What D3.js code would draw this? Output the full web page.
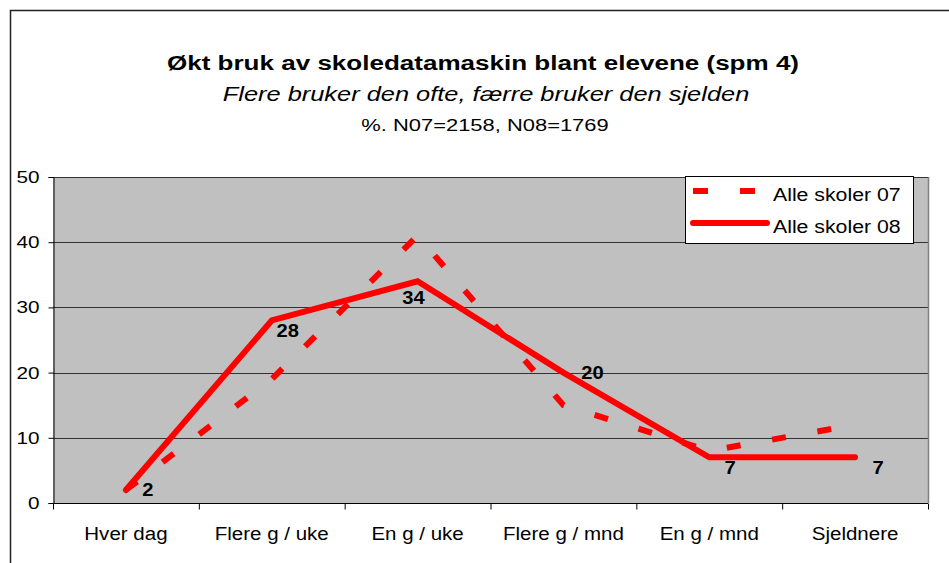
<!DOCTYPE html>
<html>
<head>
<meta charset="utf-8">
<script src="https://cdnjs.cloudflare.com/ajax/libs/d3/7.8.5/d3.min.js"></script>
<style>
  body { margin: 0; background: #fff; }
  svg text { font-family: "Liberation Sans", Arial, sans-serif; fill: #000; }
</style>
</head>
<body>
<div id="chart"></div>
<script>
// chart data
var categories = ['Hver dag', 'Flere g / uke', 'En g / uke', 'Flere g / mnd', 'En g / mnd', 'Sjeldnere'];
var skoler07 = [2, 19, 41, 15, 8, 12];
var skoler08 = [2, 28, 34, 20, 7, 7];
var yTicks = [0, 10, 20, 30, 40, 50];
var seriesNames = ['Alle skoler 07', 'Alle skoler 08'];
// where each 08 value label sits relative to its point
var labelOffsets = [[22, 0], [16, 10], [-4, 16], [29, 0], [21, 10], [23, 10]];

var width = 949,
  height = 563;

var svg = d3.select('#chart').append('svg')
    .attr('width', width)
    .attr('height', height);

// outer frame (runs off the right and bottom edges)
svg.append('rect')
    .attr('x', 10.5).attr('y', 10.5)
    .attr('width', 1000).attr('height', 1000)
    .attr('fill', 'none')
    .attr('stroke', '#222')
    .attr('stroke-width', 1.5);

var plot = {left: 53, right: 928, top: 177, bottom: 503};

var x = d3.scaleBand()
    .domain(categories)
    .range([plot.left, plot.right]);

var xEdge = d3.scaleLinear()
    .domain([0, categories.length])
    .range([plot.left, plot.right]);

var y = d3.scaleLinear()
    .domain([0, 50])
    .range([plot.bottom, plot.top]);

function cx(i) { return x(categories[i]) + x.bandwidth() / 2; }

// stretch text sideways like the original
function stretch(sel, sx) {
  sel.each(function() {
    var t = d3.select(this);
    var tx = +t.attr('x') || 0;
    t.attr('transform', 'translate(' + tx + ',0) scale(' + sx + ',1) translate(' + (-tx) + ',0)');
  });
}

// titles
svg.append('text')
    .attr('x', 483).attr('y', 70)
    .attr('text-anchor', 'middle')
    .style('font-size', '21px')
    .style('font-weight', 'bold')
    .text('Økt bruk av skoledatamaskin blant elevene (spm 4)')
    .call(stretch, 1.24);

svg.append('text')
    .attr('x', 486).attr('y', 101)
    .attr('text-anchor', 'middle')
    .style('font-size', '21px')
    .style('font-style', 'italic')
    .text('Flere bruker den ofte, færre bruker den sjelden')
    .call(stretch, 1.21);

svg.append('text')
    .attr('x', 485).attr('y', 131)
    .attr('text-anchor', 'middle')
    .style('font-size', '17px')
    .text('%. N07=2158, N08=1769')
    .call(stretch, 1.29);

// plot area
svg.append('rect')
    .attr('x', plot.left).attr('y', plot.top)
    .attr('width', plot.right - plot.left)
    .attr('height', plot.bottom - plot.top)
    .attr('fill', '#c0c0c0');

svg.append('g')
  .selectAll('line')
  .data(yTicks.slice(1))
  .enter().append('line')
    .attr('x1', plot.left).attr('x2', plot.right)
    .attr('y1', function(d) { return Math.round(y(d)) + 0.5; })
    .attr('y2', function(d) { return Math.round(y(d)) + 0.5; })
    .attr('stroke', '#333')
    .attr('stroke-width', 1);

svg.append('line')
    .attr('x1', plot.right + 0.5).attr('x2', plot.right + 0.5)
    .attr('y1', plot.top).attr('y2', plot.bottom)
    .attr('stroke', '#808080')
    .attr('stroke-width', 1.5);

// y axis
var yAxis = d3.axisLeft(y).tickValues(yTicks).tickSize(5).tickPadding(9);
var gy = svg.append('g')
    .attr('transform', 'translate(' + (plot.left + 0.5) + ',0)')
    .call(yAxis);
gy.select('.domain').attr('stroke', '#000');
gy.selectAll('.tick line').attr('stroke', '#000');
gy.selectAll('text')
    .style('font-size', '17px')
    .attr('fill', '#000')
    .call(stretch, 1.22);

// x axis: ticks at category edges, labels at centres
var gx = svg.append('g')
    .attr('transform', 'translate(0,' + (plot.bottom + 0.5) + ')')
    .call(d3.axisBottom(xEdge).tickValues(d3.range(categories.length + 1)).tickSize(6).tickFormat(''));
gx.select('.domain').attr('stroke', '#000').attr('d', 'M' + plot.left + ',0H' + plot.right);
gx.selectAll('.tick line').attr('stroke', '#000');

var gxl = svg.append('g')
    .attr('transform', 'translate(0,' + plot.bottom + ')')
    .call(d3.axisBottom(x).tickSize(0).tickPadding(24));
gxl.select('.domain').remove();
gxl.selectAll('text')
    .style('font-size', '19px')
    .attr('fill', '#000')
    .call(stretch, 1.08);

// lines
var line = d3.line()
    .x(function(d, i) { return cx(i); })
    .y(function(d) { return y(d); });

svg.append('path')
    .datum(skoler07)
    .attr('d', line)
    .attr('fill', 'none')
    .attr('stroke', '#ff0000')
    .attr('stroke-width', 6)
    .attr('stroke-dasharray', '14,32');

svg.append('path')
    .datum(skoler08)
    .attr('d', line)
    .attr('fill', 'none')
    .attr('stroke', '#ff0000')
    .attr('stroke-width', 6)
    .attr('stroke-linecap', 'round')
    .attr('stroke-linejoin', 'miter');

// value labels for 08
svg.append('g')
  .selectAll('text')
  .data(skoler08)
  .enter().append('text')
    .attr('x', function(d, i) { return cx(i) + labelOffsets[i][0]; })
    .attr('y', function(d, i) { return y(d) + labelOffsets[i][1]; })
    .attr('dy', '0.35em')
    .attr('text-anchor', 'middle')
    .style('font-size', '18px')
    .style('font-weight', 'bold')
    .text(function(d) { return d; })
    .call(stretch, 1.12);

// legend
var legend = svg.append('g')
    .attr('transform', 'translate(685,176)');

legend.append('rect')
    .attr('x', 0.5).attr('y', 0.5)
    .attr('width', 228).attr('height', 67)
    .attr('fill', '#fff')
    .attr('stroke', '#000');

legend.append('line')
    .attr('x1', 8).attr('x2', 70)
    .attr('y1', 15).attr('y2', 15)
    .attr('stroke', '#ff0000')
    .attr('stroke-width', 6)
    .attr('stroke-dasharray', '15,32');

legend.append('line')
    .attr('x1', 8).attr('x2', 82)
    .attr('y1', 47).attr('y2', 47)
    .attr('stroke', '#ff0000')
    .attr('stroke-width', 6)
    .attr('stroke-linecap', 'round');

legend.selectAll('text.lbl')
  .data(seriesNames)
  .enter().append('text')
    .attr('class', 'lbl')
    .attr('x', 88)
    .attr('y', function(d, i) { return 25 + i * 32; })
    .style('font-size', '19px')
    .text(function(d) { return d; })
    .call(stretch, 1.12);
</script>
</body>
</html>
